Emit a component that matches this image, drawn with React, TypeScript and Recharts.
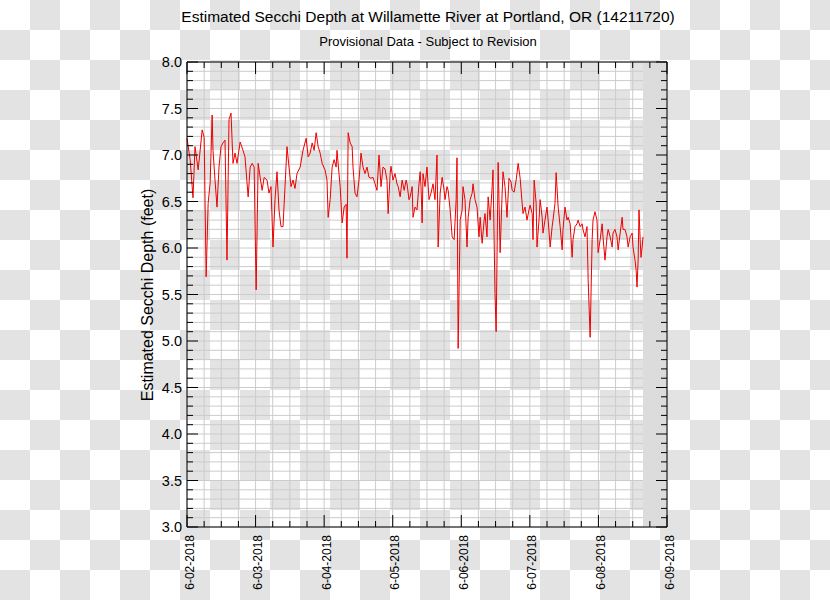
import React from 'react';
import { LineChart, Line, XAxis, YAxis, CartesianGrid, ReferenceArea, ReferenceLine } from 'recharts';

// Hours since 6-02-2018 00:00
const hours = [
  0, 1.1, 2.1, 2.8, 3.9, 4.6, 5.3, 6.0, 6.7, 7.4, 8.1, 8.8, 9.1, 9.8, 10.5, 11.2, 11.9, 12.6, 13.3, 14.0,
  14.7, 15.4, 16.1, 16.8, 17.5, 18.6, 19.6, 20.3, 21.4, 22.1, 22.8, 23.5, 24.2, 24.9, 25.6, 26.3, 27.0, 28.0, 28.7, 29.4,
  30.1, 30.8, 31.5, 32.2, 32.9, 33.6, 34.3, 35.0, 35.7, 36.4, 37.1, 37.8, 38.5, 39.6, 40.6, 41.7, 42.4, 43.1, 43.8, 44.5,
  45.2, 45.9, 46.6, 47.3, 48.3, 49.0, 49.4, 50.1, 50.8, 51.5, 52.2, 52.5, 53.2, 53.6, 54.3, 55.0, 55.7, 56.0, 56.4, 57.1,
  57.8, 58.1, 58.8, 59.5, 60.2, 60.9, 61.6, 62.3, 63.0, 63.7, 64.4, 65.1, 65.8, 66.5, 67.2, 67.9, 68.6, 69.3, 70.0, 70.4,
  71.1, 71.4, 72.1, 72.8, 73.5, 73.9, 74.6, 75.3, 76.0, 76.7, 77.0, 77.7, 78.1, 78.8, 79.1, 79.8, 80.5, 81.2, 81.6, 81.9,
  82.3, 82.6, 83.3, 84.0, 84.7, 85.4, 86.1, 86.8, 87.5, 87.9, 88.6, 89.3, 90.0, 90.3, 91.0, 91.4, 92.1, 92.8, 93.5, 94.2,
  94.5, 94.9, 95.6, 96.3, 96.6, 97.3, 98.0, 98.4, 99.1, 99.8, 100.1, 100.8, 101.5, 102.2, 102.6, 103.3, 104.0, 104.3, 105.0, 105.4,
  106.1, 106.8, 107.1, 107.8, 108.2, 108.9, 109.6, 110.3, 110.6, 111.3, 112.0, 112.7, 113.4, 113.8, 114.5, 115.2, 115.9, 116.6, 117.3, 117.6,
  118.3, 119.0, 119.7, 120.1, 120.8, 121.1, 121.5, 122.2, 122.5, 123.2, 123.6, 124.3, 124.6, 125.3, 126.0, 126.4, 127.1, 127.8, 128.1, 128.8,
  129.2, 129.9, 130.6, 131.3, 131.6, 132.3, 133.0, 133.4, 134.1, 134.8, 135.1, 135.8, 136.5, 136.9, 137.6, 138.3, 138.6, 139.3, 140.0, 140.4,
  141.1, 141.8, 142.1, 142.8, 143.5, 143.9, 144.6, 145.3, 145.6, 146.3, 147.0, 147.4, 148.1, 148.8, 149.1, 149.8, 150.5, 150.9, 151.6, 152.3,
  152.6, 153.3, 154.0, 154.4, 155.1, 155.8, 156.1, 156.8, 157.2, 157.5, 157.9, 158.2, 158.6, 158.9, 159.3, 159.6,
];

// Estimated Secchi depth (feet)
const depth = [
  7.18, 6.95, 6.54, 7.09, 6.84, 7.05, 7.27, 7.19, 5.69, 6.48, 6.7, 7.43, 7.05, 6.73, 6.44, 6.87, 7.09, 7.13, 7.16, 5.87,
  7.38, 7.45, 6.91, 7.02, 6.91, 7.14, 7.05, 6.98, 6.55, 6.87, 6.91, 6.87, 5.55, 6.91, 6.76, 6.62, 6.76, 6.73, 6.59, 6.66,
  6.01, 6.52, 6.82, 6.41, 6.23, 6.23, 6.66, 7.09, 6.87, 6.66, 6.73, 6.64, 6.8, 6.87, 7.05, 7.18, 6.98, 7.02, 7.13, 7.05,
  7.24, 7.09, 7.02, 6.91, 6.84, 6.73, 6.33, 6.52, 6.87, 6.95, 6.87, 7.05, 6.8, 6.66, 6.27, 6.44, 6.47, 5.89, 7.24, 7.13,
  7.09, 6.87, 6.59, 6.55, 6.73, 7.02, 6.87, 6.8, 6.87, 6.76, 6.75, 6.76, 6.69, 6.62, 7.0, 6.66, 6.87, 6.85, 6.73, 6.37,
  6.8, 6.88, 6.73, 6.8, 6.69, 6.66, 6.55, 6.73, 6.62, 6.73, 6.69, 6.52, 6.55, 6.66, 6.33, 6.44, 6.41, 6.69, 6.82, 6.66,
  6.27, 6.8, 6.66, 6.87, 6.52, 6.59, 6.69, 6.52, 7.0, 6.01, 6.59, 6.76, 6.62, 6.52, 6.66, 6.62, 6.41, 6.12, 6.09, 6.52,
  6.97, 4.92, 6.3, 6.41, 6.66, 6.52, 6.01, 6.33, 6.52, 6.59, 6.69, 6.52, 6.44, 6.12, 6.33, 6.05, 6.3, 6.37, 6.12, 6.55,
  6.3, 6.66, 6.84, 5.51, 5.1, 6.92, 5.95, 6.59, 6.82, 6.66, 6.33, 6.75, 6.71, 6.62, 6.6, 6.73, 6.91, 6.75, 6.48, 6.37,
  6.44, 6.3, 6.41, 6.46, 6.37, 6.09, 6.73, 6.48, 6.01, 6.3, 6.52, 6.33, 6.16, 6.3, 6.44, 6.3, 6.01, 6.23, 6.3, 6.48,
  6.81, 6.44, 6.23, 5.98, 6.2, 6.44, 6.3, 6.33, 6.26, 5.9, 6.09, 6.23, 6.26, 6.3, 6.23, 6.26, 6.2, 6.12, 6.23, 5.66,
  5.04, 6.09, 6.3, 6.39, 6.3, 5.95, 6.09, 6.26, 6.12, 5.87, 6.12, 6.2, 6.12, 6.01, 6.16, 6.2, 6.12, 5.98, 6.16, 6.33,
  6.2, 6.2, 6.12, 6.01, 6.12, 6.16, 6.01, 5.87, 5.76, 5.58, 5.87, 6.41, 6.09, 5.9, 6.01, 6.12,
];

const dayTicks = [0, 24, 48, 72, 96, 120, 144, 168];
const dayLabels = ['6-02-2018', '6-03-2018', '6-04-2018', '6-05-2018', '6-06-2018', '6-07-2018', '6-08-2018', '6-09-2018'];
const yMajor = [3.0, 3.5, 4.0, 4.5, 5.0, 5.5, 6.0, 6.5, 7.0, 7.5, 8.0];
const noDataStart = 159.6;

const title = 'Estimated Secchi Depth at Willamette River at Portland, OR (14211720)';
const subtitle = 'Provisional Data - Subject to Revision';
const yTitle = 'Estimated Secchi Depth (feet)';

const data = hours.map((h, i) => ({ h, v: depth[i] }));

const xTicks: number[] = [];
for (let t = 0; t <= 168; t += 6) xTicks.push(t);
const yTicks: number[] = [];
for (let i = 30; i <= 80; i += 1) yTicks.push(i / 10);

const W = 830;
const H = 600;
const L = 187;
const R = 667;
const T = 62;
const B = 527;
const FONT = '"Liberation Sans", Arial, Helvetica, sans-serif';

const XTick = (props: any) => {
  const { x, payload } = props;
  const v = payload.value;
  const idx = dayTicks.indexOf(v);
  const major = idx >= 0;
  const len = major ? 12 : 6;
  return (
    <g>
      <line x1={x} x2={x} y1={B} y2={B - len} stroke="#000" strokeWidth={1} />
      <line x1={x} x2={x} y1={T} y2={T + len} stroke="#000" strokeWidth={1} />
      {major && (
        <text
          x={x + 6.5}
          y={535}
          transform={`rotate(-90 ${x + 6.5} 535)`}
          textAnchor="end"
          fontSize={12}
          fontFamily={FONT}
          fill="#000"
        >
          {dayLabels[idx]}
        </text>
      )}
    </g>
  );
};

const YTick = (props: any) => {
  const { y, payload } = props;
  const v = payload.value;
  const major = yMajor.some((m) => Math.abs(m - v) < 1e-6);
  const len = major ? 11 : 6;
  return (
    <g>
      <line x1={L} x2={L + len} y1={y} y2={y} stroke="#000" strokeWidth={1} />
      <line x1={R} x2={R - len} y1={y} y2={y} stroke="#000" strokeWidth={1} />
      {major && (
        <text x={182} y={y} dy="0.36em" textAnchor="end" fontSize={14.5} fontFamily={FONT} fill="#000">
          {v.toFixed(1)}
        </text>
      )}
    </g>
  );
};

export default function App() {
  return (
    <div
      style={{
        position: 'absolute',
        left: 0,
        top: 0,
        width: W,
        height: H,
        background: 'repeating-conic-gradient(#e3e3e3 0% 25%, #ffffff 0% 50%) 0 0 / 60px 60px',
      }}
    >
      <LineChart
        width={W}
        height={H}
        data={data}
        margin={{ top: T, left: 0, right: W - R, bottom: 0 }}
      >
        <CartesianGrid stroke="#cccccc" strokeWidth={1} fill="none" />
        <XAxis
          dataKey="h"
          type="number"
          domain={[0, 168]}
          ticks={xTicks}
          interval={0}
          tick={<XTick />}
          tickLine={false}
          tickSize={0}
          tickMargin={0}
          axisLine={{ stroke: '#000' }}
          height={H - B}
        />
        <YAxis
          type="number"
          domain={[3, 8]}
          ticks={yTicks}
          interval={0}
          tick={<YTick />}
          tickLine={false}
          tickSize={0}
          tickMargin={0}
          axisLine={{ stroke: '#000' }}
          width={L}
          allowDataOverflow
        />
        <ReferenceArea x1={noDataStart} x2={168} y1={3} y2={8} fill="#dcdcdc" fillOpacity={1} stroke="none" />
        <Line
          dataKey="v"
          type="linear"
          stroke="#ee0000"
          strokeWidth={1}
          dot={false}
          isAnimationActive={false}
        />
        <ReferenceLine y={8} stroke="#000" strokeWidth={1} />
        <ReferenceLine x={168} stroke="#000" strokeWidth={1} />
      </LineChart>
      <svg
        width={W}
        height={H}
        style={{ position: 'absolute', left: 0, top: 0, pointerEvents: 'none' }}
      >
        <text x={428} y={22} textAnchor="middle" fontSize={15.5} fontFamily={FONT} fill="#000">
          {title}
        </text>
        <text x={428} y={46} textAnchor="middle" fontSize={13} fontFamily={FONT} fill="#000">
          {subtitle}
        </text>
        <text
          x={153}
          y={295}
          transform="rotate(-90 153 295)"
          textAnchor="middle"
          fontSize={16}
          fontFamily={FONT}
          fill="#000"
        >
          {yTitle}
        </text>
      </svg>
    </div>
  );
}
